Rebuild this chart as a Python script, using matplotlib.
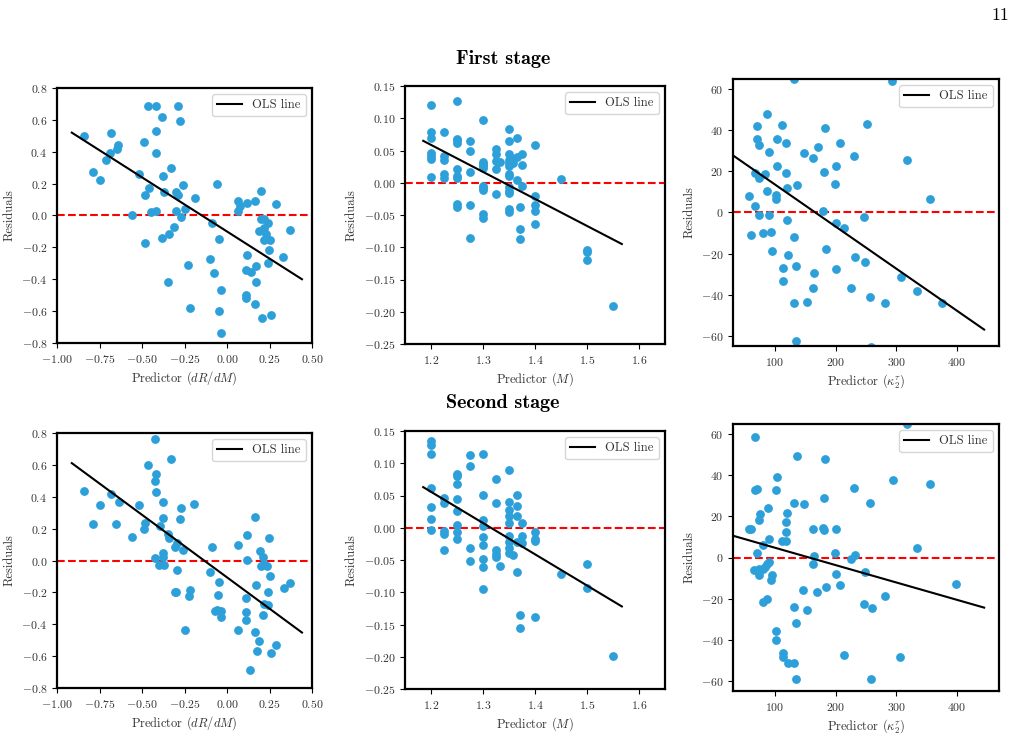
import matplotlib
matplotlib.use("Agg")
import matplotlib.pyplot as plt

plt.rcParams['font.family'] = ['cmr10', 'DejaVu Serif']
plt.rcParams['mathtext.fontset'] = 'cm'
plt.rcParams['axes.formatter.use_mathtext'] = True
plt.rcParams['axes.unicode_minus'] = True

# ---------------- data: first stage ----------------
fs_dr_x = [-0.84, -0.68, -0.79, -0.75, -0.71, -0.69, -0.65, -0.64, -0.556, -0.52,
           -0.49, -0.48, -0.467, -0.42, -0.418, -0.416, -0.38, -0.29, -0.275, -0.33,
           -0.377, -0.46, -0.48, -0.37, -0.30, -0.29, -0.26, -0.19, -0.45, -0.42,
           -0.30, -0.25, -0.27, -0.31, -0.34, -0.38, -0.35, -0.23, -0.215, -0.06,
           -0.088, -0.05, -0.10, -0.074, -0.037, -0.045, -0.037, 0.065, 0.077, 0.067,
           0.115, 0.164, 0.20, 0.29, 0.20, 0.215, 0.24, 0.187, 0.215, 0.23,
           0.22, 0.25, 0.37, 0.117, 0.246, 0.33, 0.24, 0.113, 0.14, 0.173,
           0.17, 0.11, 0.113, 0.166, 0.207, 0.258]
fs_dr_y = [0.50, 0.52, 0.27, 0.22, 0.35, 0.39, 0.42, 0.44, 0.0, 0.26,
           0.46, -0.175, 0.69, 0.69, 0.53, 0.39, 0.62, 0.69, 0.59, 0.30,
           0.25, 0.17, 0.13, 0.147, 0.15, 0.13, 0.19, 0.11, 0.02, 0.03,
           0.03, 0.04, -0.01, -0.075, -0.115, -0.14, -0.42, -0.31, -0.58, 0.20,
           -0.05, -0.15, -0.27, -0.36, -0.47, -0.60, -0.74, 0.09, 0.06, 0.026,
           0.08, 0.09, 0.155, 0.07, -0.025, -0.025, -0.05, -0.095, -0.08, -0.115,
           -0.155, -0.155, -0.09, -0.25, -0.215, -0.26, -0.30, -0.34, -0.355, -0.32,
           -0.42, -0.50, -0.52, -0.555, -0.645, -0.625]
fs_dr_ols_x = [-0.913, 0.441]
fs_dr_ols_y = [0.52, -0.40]

fs_m_x = ([1.2] * 7 + [1.225] * 5 + [1.25] * 9 + [1.275] * 5 + [1.30] * 10 +
          [1.325] * 5 + [1.333] + [1.35] * 13 + [1.357] * 2 + [1.365] * 3 +
          [1.372] * 3 + [1.375] * 3 + [1.40] * 5 + [1.45] + [1.50] * 3 + [1.55])
fs_m_y = [0.121, 0.078, 0.069, 0.046, 0.042, 0.037, 0.009,
          0.078, 0.041, 0.036, 0.013, 0.008,
          0.127, 0.068, 0.066, 0.062, 0.021, 0.010, 0.007, -0.033, -0.037,
          0.064, 0.050, 0.016, -0.035, -0.085,
          0.098, 0.032, 0.029, 0.026, 0.023, -0.005, -0.008, -0.011, -0.048, -0.054,
          0.053, 0.045, 0.034, 0.021, -0.017,
          0.032,
          0.083, 0.064, 0.045, 0.036, 0.030, 0.026, 0.013, 0.010, -0.007, -0.013,
          -0.016, -0.040, -0.045,
          0.037, 0.030,
          0.069, 0.040, 0.004,
          -0.038, -0.071, -0.087,
          0.044, 0.028, -0.005,
          0.059, -0.021, -0.034, -0.044, -0.064,
          0.006,
          -0.104, -0.108, -0.119,
          -0.191]
fs_m_ols_x = [1.185, 1.567]
fs_m_ols_y = [0.065, -0.095]

fs_k_x = [131, 293, 87, 71, 111, 252, 182, 71, 103, 74, 119, 207, 90, 148, 171,
          162, 230, 317, 104, 200, 67, 83, 74, 119, 181, 120, 136, 199, 87, 101,
          102, 58, 355, 68, 180, 74, 90, 247, 120, 200, 213, 60, 80, 93, 132,
          96, 122, 184, 232, 248, 114, 134, 165, 200, 114, 307, 162, 225, 333.5,
          257, 131, 153, 282, 375, 134, 259]
fs_k_y = [65, 64, 48, 42, 42.4, 43, 41, 36, 36, 33, 34, 34, 29.4, 28.8, 32,
          26.3, 27.6, 25.5, 22.8, 22.4, 19.3, 18.7, 16.6, 19.3, 19.8, 12, 13.5, 13.8, 10.4, 8.6,
          6.7, 8.1, 6.5, 3.1, 0.8, -1.3, -1.3, -2.3, -3.6, -4.9, -7.5, -10.9, -10, -9.3, -12,
          -18.9, -20.5, -17.6, -21.5, -24.2, -26.8, -26, -29.6, -27.6, -33.5, -31.4, -36.9, -36.9, -38.2,
          -41.3, -44.2, -43.7, -44.2, -44, -62.6, -65.5]
fs_k_ols_x = [31, 444.5]
fs_k_ols_y = [27.8, -57.0]

# ---------------- data: second stage ----------------
ss_dr_x = [-0.843, -0.68, -0.79, -0.75, -0.652, -0.636, -0.556, -0.52, -0.48, -0.49,
           -0.465, -0.424, -0.42, -0.422, -0.416, -0.328, -0.379, -0.375, -0.393, -0.35,
           -0.342, -0.273, -0.275, -0.192, -0.296, -0.304, -0.261, -0.379, -0.379, -0.424,
           -0.402, -0.371, -0.294, -0.308, -0.298, -0.218, -0.226, -0.245, -0.086, -0.10,
           -0.045, -0.052, -0.07, -0.056, -0.035, -0.037, 0.065, 0.116, 0.115, 0.164,
           0.246, 0.193, 0.209, 0.199, 0.22, 0.235, 0.25, 0.172, 0.113, 0.242,
           0.335, 0.372, 0.218, 0.244, 0.111, 0.211, 0.113, 0.067, 0.166, 0.19,
           0.174, 0.29, 0.258, 0.138]
ss_dr_y = [0.435, 0.42, 0.227, 0.35, 0.23, 0.364, 0.146, 0.35, 0.238, 0.20,
           0.597, 0.762, 0.544, 0.498, 0.43, 0.634, 0.364, 0.265, 0.217, 0.169,
           0.14, 0.332, 0.263, 0.356, 0.108, 0.085, 0.064, 0.05, 0.024, 0.014,
           -0.028, -0.028, -0.062, -0.198, -0.196, -0.188, -0.223, -0.437, 0.083, -0.073,
           -0.137, -0.215, -0.318, -0.311, -0.315, -0.357, 0.098, 0.158, 0.003, 0.272,
           0.14, 0.058, 0.024, -0.032, -0.024, -0.032, -0.095, -0.156, -0.234, -0.198,
           -0.175, -0.144, -0.276, -0.28, -0.32, -0.343, -0.376, -0.435, -0.45, -0.502,
           -0.565, -0.53, -0.58, -0.689]
ss_dr_ols_x = [-0.913, 0.441]
ss_dr_ols_y = [0.611, -0.452]

ss_m_x = ([1.2] * 7 + [1.225] * 5 + [1.25] * 8 + [1.275] * 4 + [1.30] * 9 +
          [1.325] * 5 + [1.333] + [1.35] * 9 + [1.357] + [1.365] * 5 +
          [1.372] * 2 + [1.375] * 3 + [1.40] * 4 + [1.45] + [1.50] * 2 + [1.55])
ss_m_y = [0.135, 0.128, 0.114, 0.062, 0.032, 0.013, -0.003,
          0.046, 0.039, -0.005, -0.010, -0.035,
          0.084, 0.080, 0.068, 0.044, 0.026, 0.005, -0.007, -0.017,
          0.113, 0.095, -0.032, -0.052,
          0.115, 0.051, 0.012, 0.003, -0.014, -0.026, -0.048, -0.061, -0.095,
          0.076, 0.038, -0.034, -0.041, -0.046,
          -0.060,
          0.090, 0.040, 0.028, 0.018, 0.008, -0.013, -0.022, -0.031, -0.039,
          -0.043,
          0.051, 0.033, 0.018, -0.022, -0.069,
          -0.136, -0.155,
          0.007, -0.013, -0.024,
          -0.007, -0.017, -0.020, -0.139,
          -0.072,
          -0.056, -0.093,
          -0.199]
ss_m_ols_x = [1.185, 1.567]
ss_m_ols_y = [0.063, -0.122]

ss_k_x = [68, 317, 136, 182, 104, 101, 68, 71, 294, 355.5, 230, 181, 132, 148, 257,
          89, 75, 74, 120, 119, 119, 58, 60, 162, 180, 181, 200, 90, 111, 119,
          80, 71, 333.5, 199, 232, 165, 225, 162, 90.5, 87, 84, 80, 66, 74, 74,
          96, 93, 200, 248, 207, 398, 184, 170, 147, 282, 87, 81, 132, 247, 260,
          153, 134, 102, 101, 114, 114, 121, 131, 213, 306, 134, 258]
ss_k_y = [58.9, 65, 49.6, 48, 39, 32.8, 33, 33.3, 37.7, 35.8, 34, 29.1, 26.3, 26, 26.5,
          24, 21, 18.4, 21.6, 17.4, 12.2, 14, 14.1, 13.8, 14.6, 13.6, 13.8, 9.1, 8, 8,
          6, 2.4, 4.5, 2.1, 1.1, 0.8, -0.8, -3.4, -2.4, -3.4, -4.7, -5.4, -5.9, -5.5, -8.5,
          -8.6, -10.9, -8, -7.3, -13.2, -13, -14.5, -16.7, -15.9, -18.7, -20.3, -21.6, -24.1, -22.8, -24.6,
          -25.5, -31.7, -35.6, -40.2, -46.7, -48.6, -51.4, -51.5, -47.6, -48.5, -59, -59.3]
ss_k_ols_x = [31, 444.5]
ss_k_ols_y = [10.6, -24.4]

# ---------------- axes config ----------------
xlabels = [r'Predictor $(dR/dM)$', r'Predictor $(M)$', r'Predictor $(\kappa_2^\tau)$']
xlims = [(-1.0, 0.5), (1.15, 1.65), (31, 469)]
ylims = [(-0.8, 0.8), (-0.25, 0.15), (-65, 65)]
xticks = [[-1.0, -0.75, -0.5, -0.25, 0.0, 0.25, 0.5],
          [1.2, 1.3, 1.4, 1.5, 1.6],
          [100, 200, 300, 400]]
yticks = [[-0.8, -0.6, -0.4, -0.2, 0.0, 0.2, 0.4, 0.6, 0.8],
          [-0.25, -0.2, -0.15, -0.1, -0.05, 0.0, 0.05, 0.1, 0.15],
          [-60, -40, -20, 0, 20, 40, 60]]

W, H = 1016, 736
# pixel boxes (left, right, top, bottom)
boxes = [
    [(57, 312, 88, 343), (405, 665, 86, 344), (733, 999, 79, 346)],
    [(57, 312, 433, 688), (405, 665, 431, 689), (733, 999, 424, 691)],
]

data = [
    [(fs_dr_x, fs_dr_y, fs_dr_ols_x, fs_dr_ols_y),
     (fs_m_x, fs_m_y, fs_m_ols_x, fs_m_ols_y),
     (fs_k_x, fs_k_y, fs_k_ols_x, fs_k_ols_y)],
    [(ss_dr_x, ss_dr_y, ss_dr_ols_x, ss_dr_ols_y),
     (ss_m_x, ss_m_y, ss_m_ols_x, ss_m_ols_y),
     (ss_k_x, ss_k_y, ss_k_ols_x, ss_k_ols_y)],
]

dot_color = '#2d9fd9'

fig = plt.figure(figsize=(W / 100, H / 100), dpi=100)

for r in range(2):
    for c in range(3):
        l, rr, t, b = boxes[r][c]
        ax = fig.add_axes([l / W, 1 - b / H, (rr - l) / W, (b - t) / H])
        x, y, ox, oy = data[r][c]
        ax.scatter(x, y, s=40, color=dot_color, zorder=2, linewidths=0)
        ax.plot(ox, oy, color='black', lw=1.5, label='OLS line', zorder=3)
        ax.axhline(0, color='red', ls='--', lw=1.5, zorder=1)
        ax.set_xlim(*xlims[c])
        ax.set_ylim(*ylims[c])
        ax.set_xticks(xticks[c])
        ax.set_yticks(yticks[c])
        ax.tick_params(labelsize=8.5, colors='black', width=0.8, length=3.5,
                       labelcolor='#333333')
        for sp in ax.spines.values():
            sp.set_linewidth(1.6)
        ax.set_xlabel(xlabels[c], fontsize=9, color='#333333', labelpad=3)
        ax.set_ylabel('Residuals', fontsize=9, color='#333333', labelpad=4)
        ax.legend(loc='upper right', fontsize=9, frameon=True, fancybox=True,
                  handlelength=2.0, borderpad=0.4, labelcolor='#333333')

fig.text(503 / W, 1 - 59 / H, 'First stage', ha='center', va='center',
         fontsize=14.5, family='cmb10')
fig.text(503 / W, 1 - 403 / H, 'Second stage', ha='center', va='center',
         fontsize=14.5, family='cmb10')
fig.text(1009 / W, 1 - 15 / H, '11', ha='right', va='center', fontsize=13)

fig.savefig('out.png', dpi=100)
